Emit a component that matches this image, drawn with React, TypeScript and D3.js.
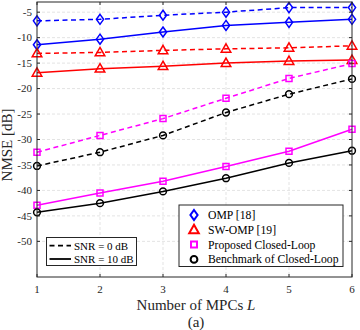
import { useEffect, useRef } from "react";
import * as d3 from "d3";

const mpcs = [1, 2, 3, 4, 5, 6];
const yTicks = [-5, -10, -15, -20, -25, -30, -35, -40, -45, -50];

const ompSnr0 = [-6.7, -6.4, -5.6, -5.0, -4.1, -4.1];
const ompSnr10 = [-11.4, -10.3, -8.9, -7.6, -7.0, -6.4];
const swompSnr0 = [-13.1, -12.9, -12.5, -12.2, -12.0, -11.6];
const swompSnr10 = [-16.9, -16.1, -15.6, -15.0, -14.6, -14.4];
const proposedSnr0 = [-32.5, -29.2, -25.9, -21.9, -18.0, -15.1];
const proposedSnr10 = [-42.9, -40.5, -38.2, -35.3, -32.3, -28.0];
const benchSnr0 = [-35.2, -32.5, -29.2, -24.7, -21.1, -18.1];
const benchSnr10 = [-44.3, -42.5, -40.2, -37.6, -34.6, -32.2];

const methodNames = ["OMP [18]", "SW-OMP [19]", "Proposed Closed-Loop", "Benchmark of Closed-Loop"];
const snrNames = ["SNR = 0 dB", "SNR = 10 dB"];

type Marker = "diamond" | "triangle" | "square" | "circle";

const methods: { color: string; marker: Marker; snr0: number[]; snr10: number[] }[] = [
  { color: "#0000ff", marker: "diamond", snr0: ompSnr0, snr10: ompSnr10 },
  { color: "#ff0000", marker: "triangle", snr0: swompSnr0, snr10: swompSnr10 },
  { color: "#ff00ff", marker: "square", snr0: proposedSnr0, snr10: proposedSnr10 },
  { color: "#000000", marker: "circle", snr0: benchSnr0, snr10: benchSnr10 },
];

const font = "'Liberation Serif', 'Times New Roman', serif";

function markerPath(m: Marker): string {
  if (m === "diamond") return "M0,-5L3.6,0L0,5L-3.6,0Z";
  if (m === "triangle") return "M0,-5L4.8,3.4L-4.8,3.4Z";
  if (m === "square") return "M-3,-3L3,-3L3,3L-3,3Z";
  return d3.symbol(d3.symbolCircle, 36)() as string;
}

const App = () => {
  const svgRef = useRef<SVGSVGElement>(null);

  useEffect(() => {
    const width = 360;
    const height = 330;
    const margin = { top: 2, right: 8, bottom: 53, left: 37 };

    const svg = d3.select(svgRef.current);
    svg.selectAll("*").remove();
    svg.attr("width", width).attr("height", height);

    const x = d3.scaleLinear().domain([1, 6]).range([margin.left, width - margin.right]);
    const y = d3.scaleLinear().domain([-57, -3]).range([height - margin.bottom, margin.top]);
    const [x0, x1] = x.range();
    const [y0, y1] = y.range();

    svg.append("rect").attr("x", 0).attr("y", 0).attr("width", width).attr("height", height).attr("fill", "#fff");

    // grid
    const grid = svg.append("g").attr("stroke", "#dcdcdc").attr("stroke-width", 0.8).attr("stroke-dasharray", "3,2");
    grid.selectAll("line.gx").data(mpcs.slice(1, -1)).join("line")
      .attr("x1", d => x(d)).attr("x2", d => x(d)).attr("y1", y1).attr("y2", y0);
    grid.selectAll("line.gy").data(yTicks).join("line")
      .attr("x1", x0).attr("x2", x1).attr("y1", d => y(d)).attr("y2", d => y(d));

    // series
    const line = d3.line<number>().x((_, i) => x(mpcs[i])).y(d => y(d));
    methods.forEach(m => {
      [m.snr0, m.snr10].forEach((vals, k) => {
        svg.append("path")
          .attr("d", line(vals))
          .attr("fill", "none")
          .attr("stroke", m.color)
          .attr("stroke-width", 1.5)
          .attr("stroke-dasharray", k === 0 ? "5,3.5" : null);
        svg.append("g").selectAll("path").data(vals).join("path")
          .attr("d", markerPath(m.marker))
          .attr("transform", (d, i) => `translate(${x(mpcs[i])},${y(d)})`)
          .attr("fill", "none")
          .attr("stroke", m.color)
          .attr("stroke-width", 1.5);
      });
    });

    // axes box and ticks
    const axisColor = "#262626";
    svg.append("rect").attr("x", x0).attr("y", y1).attr("width", x1 - x0).attr("height", y0 - y1)
      .attr("fill", "none").attr("stroke", axisColor).attr("stroke-width", 1);
    const ticks = svg.append("g").attr("stroke", axisColor).attr("stroke-width", 1);
    mpcs.forEach(v => {
      ticks.append("line").attr("x1", x(v)).attr("x2", x(v)).attr("y1", y0).attr("y2", y0 - 3);
      ticks.append("line").attr("x1", x(v)).attr("x2", x(v)).attr("y1", y1).attr("y2", y1 + 3);
    });
    yTicks.forEach(v => {
      ticks.append("line").attr("x1", x0).attr("x2", x0 + 3).attr("y1", y(v)).attr("y2", y(v));
      ticks.append("line").attr("x1", x1).attr("x2", x1 - 3).attr("y1", y(v)).attr("y2", y(v));
    });

    svg.append("g").selectAll("text").data(mpcs).join("text")
      .attr("x", d => x(d)).attr("y", y0 + 15.5)
      .attr("text-anchor", "middle").attr("font-family", font).attr("font-size", 11).attr("fill", axisColor)
      .text(d => d);
    svg.append("g").selectAll("text").data(yTicks).join("text")
      .attr("x", x0 - 5).attr("y", d => y(d) + 3.8)
      .attr("text-anchor", "end").attr("font-family", font).attr("font-size", 11).attr("fill", axisColor)
      .text(d => d);

    // labels
    const xl = svg.append("text").attr("x", 196).attr("y", 310)
      .attr("text-anchor", "middle").attr("font-family", font).attr("font-size", 15).attr("fill", axisColor);
    xl.append("tspan").text("Number of MPCs ");
    xl.append("tspan").attr("font-style", "italic").text("L");
    svg.append("text").attr("x", 196).attr("y", 326.5)
      .attr("text-anchor", "middle").attr("font-family", font).attr("font-size", 15).attr("fill", axisColor)
      .text("(a)");
    svg.append("text").attr("transform", `translate(11.5,145) rotate(-90)`)
      .attr("text-anchor", "middle").attr("font-family", font).attr("font-size", 15).attr("fill", axisColor)
      .text("NMSE [dB]");

    // legend: line styles
    const lg1 = svg.append("g").attr("transform", "translate(46.5,237.5)");
    lg1.append("rect").attr("width", 90).attr("height", 28).attr("fill", "#fff").attr("stroke", axisColor).attr("stroke-width", 1);
    snrNames.forEach((name, i) => {
      const yy = 8.2 + i * 13.3;
      lg1.append("line").attr("x1", 3).attr("x2", 24.5).attr("y1", yy).attr("y2", yy)
        .attr("stroke", "#000").attr("stroke-width", 1.8).attr("stroke-dasharray", i === 0 ? "5,3.5" : null);
      lg1.append("text").attr("x", 27.5).attr("y", yy + 4)
        .attr("font-family", font).attr("font-size", 11).attr("fill", "#000").text(name);
    });

    // legend: methods
    const lg2 = svg.append("g").attr("transform", "translate(179,205)");
    lg2.append("rect").attr("width", 164).attr("height", 61.5).attr("fill", "#fff").attr("stroke", axisColor).attr("stroke-width", 1);
    methods.forEach((m, i) => {
      const yy = 10 + i * 14.8;
      lg2.append("path").attr("d", markerPath(m.marker)).attr("transform", `translate(15,${yy})`)
        .attr("fill", "none").attr("stroke", m.color).attr("stroke-width", 2);
      lg2.append("text").attr("x", 29).attr("y", yy + 4)
        .attr("font-family", font).attr("font-size", 11.7).attr("fill", "#000").text(methodNames[i]);
    });
  }, []);

  return (
    <div style={{ position: "absolute", left: 0, top: 0 }}>
      <svg ref={svgRef} width={360} height={330} style={{ display: "block" }}></svg>
    </div>
  );
};

export default App;
